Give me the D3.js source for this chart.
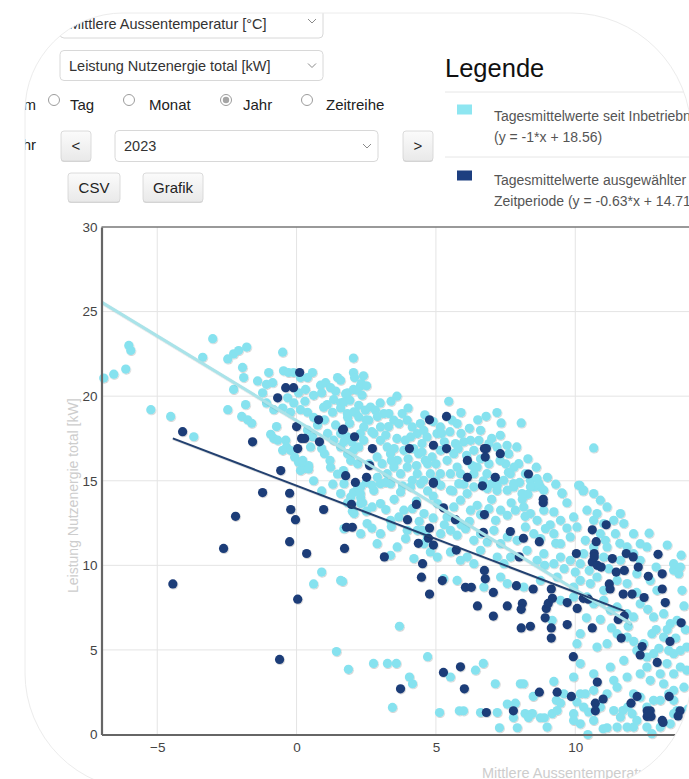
<!DOCTYPE html>
<html><head><meta charset="utf-8">
<script src="https://cdn.jsdelivr.net/npm/d3@7"></script>
<style>
body{margin:0;background:#fff;overflow:hidden}
svg{display:block;font-family:"Liberation Sans",Arial,Helvetica,sans-serif}
</style></head><body>
<div id="chart"></div>
<script>
const W = 689, H = 779
const PLOT = {LEFT:101.5, TOP:227, BOTTOM:734.5, RIGHT:714.6}

// achsen
const xDomain = [-7, 15]
const yDomain = [0, 30]
const xTicks = [-5, 0, 5, 10]
const yTicks = [0, 5, 10, 15, 20, 25, 30]
const xTitle = "Mittlere Aussentemperatur [°C]"
const yTitle = "Leistung Nutzenergie total [kW]"

// regressionen [steigung, achsenabschnitt] und x-bereich
const fitAll = [-1, 18.56], fitAllRange = [-7, 12]
const fitSel = [-0.63, 14.71], fitSelRange = [-4.44, 11.8]

const legendTitle = "Legende"
const legendLines = [
  ["Tagesmittelwerte seit Inbetriebnahme", "(y = -1*x + 18.56)"],
  ["Tagesmittelwerte ausgewählter", "Zeitperiode (y = -0.63*x + 14.71)"]
]
const selectTexts = ["Mittlere Aussentemperatur [°C]", "Leistung Nutzenergie total [kW]", "2023"]
const radioLabels = ["Tag", "Monat", "Jahr", "Zeitreihe"]
const radioChecked = "Jahr"

// Tagesmittelwerte seit Inbetrieb [temp, leistung]
const seitInbetrieb = [
[-6.92,21.07],[-6.56,21.3],[-6.13,21.6],[-6.02,23.0],[-5.95,22.7],[-5.23,19.2],[-4.52,18.8],[-3.69,17.6],[-3.01,23.4],[-3.37,22.3],
[-2.47,22.2],[-2.26,22.5],[-2.08,22.7],[-1.79,22.9],[-1.94,21.7],[-1.9,21.1],[-2.47,19.2],[-1.97,18.8],[-1.83,19.5],[-2.26,20.4],
[-1.76,18.6],[-1.61,18.4],[-1.4,20.9],[-1.08,20.7],[-0.86,20.8],[-1.0,21.4],[-0.5,22.6],[-1.22,20.2],[-1.08,19.6],[-0.82,19.2],
[-0.93,17.75],[-0.82,17.5],[-0.72,18.2],[-0.5,19.3],[-0.47,21.5],[-0.29,21.4],[-0.11,21.4],[-0.39,17.4],[-0.36,17.0],[-0.07,16.4],
[0.07,16.1],[0.22,15.7],[0.61,15.0],
[0.14,21.1],[0.39,21.1],[0.57,21.4],[-0.32,19.9],[-0.1,19.6],[0.07,20.2],[0.32,20.4],[0.61,20.05],[0.86,20.65],[1.04,20.8],[1.22,20.5],
[1.47,21.1],[1.33,19.8],[1.58,19.6],[1.83,20.2],[2.04,20.4],[2.04,22.25],[0.97,19.35],[1.29,19.05],[1.58,19.3],[1.83,18.75],[2.11,19.05],
[-0.22,19.05],[0.14,19.2],[0.39,19.05],[0.61,18.75],[-0.68,17.4],[-0.5,16.8],[-0.22,16.8],[0.22,16.2],[0.43,15.9],[0.39,18.0],
[0.57,17.6],[0.75,18.3],[1.11,17.8],[1.33,17.4],[1.58,17.0],[1.83,16.6],[2.04,16.8],[0.14,15.6],[0.43,15.7],[1.22,15.8],[1.47,15.4],
[1.68,15.6],[1.94,16.2],[2.19,16.0],[2.04,14.3],[2.19,14.6],[2.04,21.4],[2.08,21.1],[2.29,20.6],
[0.61,8.9],[0.9,9.6],[1.65,9.05],[1.43,4.9],[1.86,3.85],[2.3,14.0],[1.83,13.7],[2.0,13.2],[2.37,13.7],
[1.58,20.94],[1.76,20.15],[1.7,19.66],[1.91,19.76],[2.17,20.35],[2.32,20.75],[2.51,20.61],[2.35,20.06],[2.23,19.46],[1.82,18.97],
[2.05,19.07],[2.23,18.77],[2.47,19.17],[2.65,19.36],[2.83,19.17],[2.59,18.58],[2.41,18.18],[1.58,17.79],[1.82,17.59],[1.99,17.29],
[2.23,17.0],[2.29,17.79],[2.41,17.39],[2.77,17.79],[3.01,18.18],[3.13,18.97],[3.31,18.97],[3.39,19.7],[3.49,18.58],[3.67,18.38],
[3.79,18.97],[3.97,18.58],[4.15,18.18],[4.33,17.79],[4.09,17.59],[3.01,17.39],[3.25,17.0],[3.37,16.6],[3.61,16.21],[3.85,16.8],
[3.97,15.81],[3.73,15.42],[3.49,15.81],[3.25,15.42],[3.07,16.01],[2.89,16.41],[4.44,18.38],[4.56,17.98],[4.68,17.59],[4.5,17.2],
[4.38,16.6],[4.62,16.21],[4.86,16.41],[5.04,17.79],[5.16,18.18],[5.46,19.7],[5.58,18.58],[5.76,18.38],[5.9,19.03],[5.16,16.8],
[5.4,16.21],[5.64,16.6],[5.76,15.81],[5.88,15.42],[5.52,15.42],[5.16,15.42],[4.8,15.42],[4.56,15.03],[4.33,15.42],[4.15,15.03],
[6.24,17.39],[6.36,16.8],[6.54,17.39],[6.6,17.98],[6.8,18.81],[7.19,19.03],[7.34,18.42],[7.31,17.69],[7.19,17.0],[7.55,17.1],
[7.61,16.6],[6.48,15.81],[6.36,15.42],[6.83,15.42],[7.01,14.83],[7.19,14.43],[7.43,15.03],[7.67,15.42],[7.79,14.63],[7.97,16.01],
[8.06,18.42],[8.21,15.42],[8.39,15.03],[8.63,15.12],[8.75,14.63],[8.51,14.63],[9.52,14.28],[10.16,14.73],[10.28,14.4],[10.66,16.94],
[3.01,14.83],[2.77,14.43],[2.29,14.24],[1.94,14.04],[1.58,14.24],
[2.6,16.0],[2.9,15.2],[3.2,14.9],[3.5,16.9],[3.9,17.4],[4.2,16.9],[4.7,16.0],[5.0,15.0],[5.3,17.3],[5.5,17.9],
[5.9,17.8],[6.1,16.5],[6.3,15.9],[6.6,16.3],[6.9,16.0],[7.0,17.5],[7.5,16.0],[7.8,15.8],[8.0,14.9],[8.3,14.2],
[6.0,14.8],[5.6,14.4],[4.9,14.1],[4.3,13.8],[3.5,13.9],[2.5,14.9],[1.2,16.2],[1.0,16.6],[0.9,14.4],[1.3,14.8],
[1.1,19.5],[1.9,18.4],[2.7,17.9],[3.3,18.2],[4.0,19.3],[4.6,18.9],[4.9,18.5],[3.0,19.6],[2.4,21.2],[3.6,20.0],
[0.3,19.7],[0.9,20.2],[1.4,20.3],[0.5,17.0],[0.9,16.9],[1.7,17.3],[1.0,18.6],[1.4,18.3],[2.5,18.6],[2.9,18.8],
[3.2,17.7],[3.6,17.5],[3.4,16.2],[4.0,16.3],[4.3,15.9],[4.5,16.7],[5.0,16.0],[5.2,17.8],[5.7,17.2],[6.0,17.3],
[6.2,18.1],[6.5,18.6],[6.9,17.2],[7.3,16.2],[7.6,15.5],[7.9,17.0],[8.3,16.3],[8.6,15.8],[9.0,15.2],[9.3,14.8],
[9.7,13.7],[9.1,12.4],[8.2,12.9],[7.7,13.7],[7.0,13.9],[6.6,13.0],[6.2,12.6],[5.9,12.4],[5.3,12.4],[4.9,12.8],
[4.4,12.6],[3.4,12.3],[2.7,12.2],[2.5,13.2],[3.2,13.3],[3.8,14.7],[4.7,14.4],[5.8,16.9],[6.7,15.0],[8.1,13.9],
[8.9,10.0],[9.6,9.8],[10.0,9.6],[9.3,11.3],[9.7,12.2],[10.5,9.7],[11.2,9.8],[11.6,11.3],[12.2,8.4],[12.6,7.4],
[12.9,6.2],[13.3,6.2],[11.9,6.4],[11.3,6.3],[10.9,6.8],[10.4,6.9],[13.0,5.1],[12.1,5.5],[13.6,5.7],[13.9,7.6],
[13.8,10.6],[12.9,9.9],[13.3,11.2],
[1.7,14.83],[2.3,14.64],[2.71,14.73],[3.37,14.83],[3.73,14.34],[4.09,14.64],[4.45,14.83],[5.17,14.73],[5.52,14.44],[5.82,14.83],
[6.12,14.24],[6.36,14.64],[6.84,14.54],[7.2,14.73],[7.56,14.44],[7.79,14.83],[8.09,14.24],[8.39,14.64],[8.69,14.83],[8.87,14.44],
[9.53,14.24],[10.12,14.73],[10.3,14.44],
[2.06,13.06],[2.3,13.65],[2.71,13.45],[3.01,13.65],[3.85,13.26],[4.15,13.35],[4.57,13.06],[5.05,13.65],[5.4,12.86],[5.64,13.45],
[5.88,13.85],[6.24,13.26],[6.48,13.55],[6.9,13.35],[7.14,12.66],[7.32,13.26],[7.56,12.96],[7.85,13.26],[8.15,13.45],[8.39,13.06],
[8.63,12.66],[8.87,13.26],[9.23,13.16],[9.47,12.66],[9.94,12.86],[10.42,13.26],[10.66,12.66],
[1.7,12.17],[2.3,11.87],[3.01,11.87],[3.91,11.58],[4.33,12.07],[4.51,12.07],[4.69,11.68],[5.17,11.87],[5.52,12.07],[5.76,11.78],
[6.06,12.17],[6.36,11.48],[6.6,11.87],[6.84,11.38],[7.08,12.07],[7.32,11.28],[7.56,11.68],[7.91,11.48],[8.21,12.27],[8.51,11.87],
[8.75,11.58],[8.93,12.17],[9.23,11.87],[9.47,11.28],[9.82,11.68],[10.06,12.27],[10.36,11.48],[10.9,11.87],[11.08,11.48],[11.44,11.87],
[2.53,12.47],[3.37,12.66],[3.67,12.86],[3.97,12.07],[2.89,11.28],[3.61,11.09],[4.8,10.79],[4.57,11.28],
[3.37,10.59],[4.21,10.4],[5.05,10.49],[5.52,10.79],[5.88,10.3],[6.12,10.49],[6.36,10.1],[6.6,10.89],[7.2,10.49],[7.44,10.1],
[7.68,10.49],[8.27,10.89],[8.63,10.3],[8.87,10.69],[9.23,10.1],[9.47,10.49],[9.82,10.3],[10.18,10.1],[10.3,10.69],[10.66,11.09],
[11.02,10.49],[11.14,11.09],[11.62,10.3],[11.86,11.09],[12.09,10.69],[12.33,10.3],
[1.58,9.11],[5.28,9.21],[5.76,9.11],[6.72,8.72],[7.32,9.31],[7.56,8.92],[8.15,8.72],[8.75,9.11],[9.35,9.31],[9.94,8.72],
[10.18,9.11],[10.54,8.92],[10.78,9.31],[11.02,8.52],[11.5,9.11],[11.86,8.92],[12.21,9.51],[12.69,9.11],[12.93,8.52],[13.53,9.71],
[13.71,9.51],[13.83,8.52],
[9.47,7.93],[9.94,8.13],[10.42,8.13],[10.66,7.73],[11.02,7.93],[11.26,7.34],[11.5,7.54],[11.86,7.14],[12.09,6.95],[12.33,7.73],
[12.81,6.95],[13.17,7.14],[13.41,6.55],[13.65,6.75],[9.17,6.75],
[10.06,5.37],[10.18,5.96],[10.78,5.17],[11.14,5.37],[11.5,5.96],[11.86,5.76],[12.21,4.97],[12.45,5.37],[12.75,5.96],[13.17,5.76],
[13.35,4.97],[13.53,4.78],[13.77,4.97],[14.0,5.17],[12.57,4.58],
[10.18,4.19],[10.66,3.59],[11.26,3.99],[11.38,3.2],[11.74,4.38],[11.86,3.4],[12.33,3.59],[12.57,3.99],[12.69,3.2],[13.05,3.59],
[13.29,4.19],[13.53,3.59],[13.77,3.99],[12.81,4.78],
[9.94,3.4],[10.18,2.41],[10.36,2.41],[10.06,1.92],[10.3,1.62],[10.48,1.33],[10.66,2.61],[11.14,2.41],[11.38,1.42],[11.71,1.42],
[11.88,1.62],[12.04,1.23],[12.33,2.21],[12.57,1.62],[12.81,2.02],[13.05,2.02],[13.17,3.0],[13.35,2.41],[13.53,2.02],[13.65,1.42],
[9.23,3.14],[9.32,2.02],[9.47,1.86],[9.59,2.41],[9.17,1.23],[9.35,1.42],[9.94,1.23],[10.9,1.62],[11.5,2.8],[12.09,2.41],[13.53,2.61],
[10.45,0.0],[11.0,0.34],[11.14,0.4],[11.5,0.44],[11.86,0.44],[12.09,0.44],[12.21,0.83],[12.57,0.44],[12.75,0.05],[13.05,0.44],
[8.99,0.44],[8.75,0.99],[8.89,0.99],[9.94,0.83],[10.18,0.63],[10.66,0.83],[11.62,1.03],[13.41,0.63],[13.53,1.23],
[2.76,4.2],[3.26,4.2],[3.58,4.2],[3.44,1.6],[3.69,6.4],[4.05,3.4],[4.16,3.0],[4.7,4.6],[5.13,1.3],[5.52,3.4],
[5.84,1.4],[5.99,1.4],[6.42,3.8],[6.7,4.2],[6.6,1.3],[7.2,1.3],[7.13,3.0],[7.28,0.4],[7.56,1.8],[7.85,1.85],
[7.78,1.0],[7.92,0.4],[8.03,3.0],[8.14,3.0],[8.2,1.24],[8.46,1.24],[8.32,1.0],[8.49,2.25],
[10.66,14.24],[10.9,13.85],[11.14,13.45],[10.78,13.06],[11.38,12.66],[11.62,13.06],[11.74,12.47],[11.02,12.47],[12.09,11.87],[12.33,11.28],
[12.57,11.09],[12.65,11.9],[13.53,10.1],[13.77,9.9],[13.95,6.2],[14.0,3.8],[13.9,2.8],[14.05,1.5]
]

// Tagesmittelwerte ausgewählte Zeitperiode (2023)
const auswahl = [
[-4.09,17.9],[-1.58,17.3],[-0.68,19.9],[-0.39,20.5],[-0.11,20.5],[0.11,21.4],[0.0,18.2],[0.18,17.5],[0.29,17.5],[0.04,16.9],
[-0.57,15.6],[0.82,17.3],[0.79,18.6],[1.65,18.0],[2.08,17.6],[1.76,15.3],[2.11,14.9],[-1.22,14.3],[-0.25,14.26],[-2.19,12.9],
[-2.62,11.0],[-0.21,13.3],[-0.04,12.7],[0.97,13.3],[-0.25,11.4],[0.36,10.7],[-4.44,8.9],[0.04,8.0],[-0.61,4.44],[1.97,13.6],
[1.79,12.25],[2.0,12.25],[1.72,11.0],
[3.15,10.5],[3.98,12.7],[4.3,13.6],[4.37,11.3],[4.52,10.1],[4.48,9.3],[4.77,12.2],[4.73,11.6],[4.91,11.2],[4.77,8.3],
[5.23,9.1],[5.27,13.4],[5.7,12.7],[5.73,10.9],[6.06,8.7],[6.27,8.7],[6.49,7.6],[6.74,13.0],[6.7,11.95],[6.74,9.7],
[6.77,9.2],[7.06,7.0],[7.06,8.4],[6.67,14.7],[4.91,14.9],[7.56,7.6],[7.78,1.4],[7.67,12.0],[7.89,8.8],[7.99,10.5],
[8.1,7.75],[8.06,7.4],[8.06,6.3],[8.39,6.4],[8.14,11.6],[8.49,8.6],[8.71,11.4],[8.85,13.7],[8.96,7.45],[8.92,6.9],
[9.03,7.75],[9.14,8.6],[9.18,8.05],[9.14,6.3],[9.14,5.7],[9.71,7.8],[9.71,6.5],[10.04,10.7],[10.07,7.45],[9.93,4.6],
[9.86,2.25],[8.71,2.5],[9.35,2.5],[10.29,8.05],[10.47,8.0],[10.61,12.1],[10.75,11.4],[10.61,6.3],[10.61,10.2],[10.68,10.7],
[10.79,10.0],[10.93,9.9],[10.68,10.5],[11.11,12.4],[10.79,3.1],[10.72,1.85],[10.72,1.4],[11.0,2.1],[11.22,8.9],[11.25,8.6],
[11.33,10.4],[11.47,9.6],[11.54,6.8],[11.65,5.7],[11.72,8.3],[11.76,7.0],[11.76,9.7],[11.83,10.7],[12.0,1.85],[12.04,8.3],
[12.08,10.5],[12.22,2.25],[12.26,9.9],[12.4,5.2],[12.33,4.7],[12.47,8.1],[12.58,1.4],[12.69,1.4],[12.58,1.07],[12.72,1.07],
[12.62,1.24],[12.62,9.35],[12.94,4.26],[12.97,10.65],[13.12,0.83],[13.15,0.71],[13.12,9.5],[13.12,8.6],[13.23,7.8],[13.4,5.5],
[13.37,2.25],[13.8,6.6],[13.76,1.4],[13.69,1.1],
[1.68,18.05],[2.72,16.9],[2.62,15.9],[2.51,15.2],[4.05,16.9],[4.77,18.6],[5.38,18.8],[4.91,17.1],[5.38,16.9],[4.91,14.85],
[6.13,16.2],[6.74,16.9],[6.81,16.9],[6.77,16.4],[7.31,16.6],[6.13,15.2],[7.13,15.2],[8.32,15.4],[8.85,13.9],
[5.27,3.67],[5.88,4.0],[3.73,2.7],[6.02,2.7],[6.81,1.3]
]

const COL_LIGHT = "#86e2ef", COL_DARK = "#1b3c78"
const COL_LINE_LIGHT = "#a9e3e9", COL_LINE_DARK = "#22406f"

const svg = d3.select("#chart").append("svg")
    .attr("width", W)
    .attr("height", H)

const defs = svg.append("defs")

// abgerundeter rahmen (screenshot-kante)
const fr = {L:25, T:13, R:691, B:790}
const frame = d3.path()
frame.moveTo(fr.L + 98, fr.T)
frame.lineTo(fr.R - 120, fr.T)
frame.arcTo(fr.R, fr.T, fr.R, fr.T + 120, 120)
frame.lineTo(fr.R, fr.B - 112)
frame.arcTo(fr.R, fr.B, fr.R - 112, fr.B, 112)
frame.lineTo(fr.L + 117, fr.B)
frame.arcTo(fr.L, fr.B, fr.L, fr.B - 117, 117)
frame.lineTo(fr.L, fr.T + 98)
frame.arcTo(fr.L, fr.T, fr.L + 98, fr.T, 98)
frame.closePath()

defs.append("clipPath").attr("id", "frameClip")
  .append("path").attr("d", frame.toString())

const btnGrad = defs.append("linearGradient").attr("id", "btnGrad")
    .attr("x1", 0).attr("x2", 0).attr("y1", 0).attr("y2", 1)
btnGrad.append("stop").attr("offset", "0%").attr("stop-color", "#fbfbfb")
btnGrad.append("stop").attr("offset", "100%").attr("stop-color", "#e9e9e9")

const shadow = defs.append("filter").attr("id", "shadow")
    .attr("x", "-10%").attr("y", "-10%").attr("width", "120%").attr("height", "120%")
shadow.append("feDropShadow").attr("dx", 0.6).attr("dy", 0.8)
    .attr("stdDeviation", 0.7).attr("flood-color", "#000").attr("flood-opacity", 0.22)

const root = svg.append("g").attr("clip-path", "url(#frameClip)")

// --- formular oben ---
const selects = [
  {x:60, y:4, w:263, h:34, base:29},
  {x:60, y:50.5, w:263, h:30, base:71},
  {x:115, y:130.5, w:263, h:31, base:151}
]
selects.forEach((s, i) => {
  root.append("rect")
      .attr("x", s.x).attr("y", s.y).attr("width", s.w).attr("height", s.h)
      .attr("rx", 4).attr("fill", "#fff").attr("stroke", "#d8d8d8")
  root.append("text")
      .attr("x", s.x + 9).attr("y", s.base)
      .attr("font-size", 14.5).attr("fill", "#333")
      .text(selectTexts[i])
  const cx = s.x + s.w - 11, cy = s.y + s.h / 2
  root.append("path")
      .attr("d", `M${cx-4},${cy-2}L${cx},${cy+2}L${cx+4},${cy-2}`)
      .attr("fill", "none").attr("stroke", "#8a8a8a").attr("stroke-width", 1)
})

root.append("text").attr("x", 36).attr("y", 110).attr("text-anchor", "end")
    .attr("font-size", 15).attr("fill", "#222").text("Zeitraum")
root.append("text").attr("x", 36).attr("y", 150).attr("text-anchor", "end")
    .attr("font-size", 15).attr("fill", "#222").text("Jahr")

const radioPos = [[54, 70], [129, 149], [226, 243], [307, 326]]
radioLabels.forEach((lab, i) => {
  const [cx, tx] = radioPos[i]
  root.append("circle").attr("cx", cx).attr("cy", 100).attr("r", 5.5)
      .attr("fill", "#fff").attr("stroke", "#9c9c9c").attr("stroke-width", 1)
  if (lab === radioChecked)
    root.append("circle").attr("cx", cx).attr("cy", 100).attr("r", 3.2).attr("fill", "#a5a5a5")
  root.append("text").attr("x", tx).attr("y", 110)
      .attr("font-size", 15).attr("fill", "#222").text(lab)
})

const buttons = [
  {x:61, y:131, w:30, h:30, t:"<"},
  {x:403, y:131, w:30, h:30, t:">"},
  {x:68, y:173, w:52, h:29, t:"CSV"},
  {x:143, y:173, w:60, h:29, t:"Grafik"}
]
buttons.forEach(b => {
  root.append("rect").attr("x", b.x).attr("y", b.y + 1).attr("width", b.w).attr("height", b.h)
      .attr("rx", 3).attr("fill", "#d6d6d6")
  root.append("rect").attr("x", b.x).attr("y", b.y).attr("width", b.w).attr("height", b.h)
      .attr("rx", 3).attr("fill", "url(#btnGrad)").attr("stroke", "#d3d3d3").attr("stroke-width", 0.8)
  root.append("text").attr("x", b.x + b.w / 2).attr("y", b.y + b.h / 2 + 5)
      .attr("text-anchor", "middle").attr("font-size", 15).attr("fill", "#222").text(b.t)
})

// --- legende ---
root.append("text").attr("x", 445).attr("y", 77)
    .attr("font-size", 25.5).attr("fill", "#111").text(legendTitle)
;[92, 157].forEach(y => root.append("line")
    .attr("x1", 445).attr("x2", W).attr("y1", y).attr("y2", y)
    .attr("stroke", "#e6e6e6"))
const legendRows = [{sy:104.5, ty:121, c:"#8ee6f1"}, {sy:170.5, ty:185, c:"#1d3f80"}]
legendRows.forEach((r, i) => {
  root.append("rect").attr("x", 457).attr("y", r.sy).attr("width", 15).attr("height", 10).attr("fill", r.c)
  legendLines[i].forEach((t, j) => root.append("text")
      .attr("x", 494).attr("y", r.ty + j * 21)
      .attr("font-size", 14).attr("fill", "#555").text(t))
})

// --- streudiagramm ---
const x = d3.scaleLinear().domain(xDomain).range([PLOT.LEFT, PLOT.RIGHT])
const y = d3.scaleLinear().domain(yDomain).range([PLOT.BOTTOM, PLOT.TOP])

const plot = root.append("g")

plot.append("g").selectAll("line.gx").data(xTicks).enter().append("line")
    .attr("x1", d => x(d)).attr("x2", d => x(d))
    .attr("y1", PLOT.TOP).attr("y2", PLOT.BOTTOM)
    .attr("stroke", "#e4e4e4").attr("stroke-width", 1)
plot.append("g").selectAll("line.gy").data(yTicks.slice(1, -1)).enter().append("line")
    .attr("x1", PLOT.LEFT).attr("x2", PLOT.RIGHT)
    .attr("y1", d => y(d)).attr("y2", d => y(d))
    .attr("stroke", "#e4e4e4").attr("stroke-width", 1)

plot.append("line").attr("x1", PLOT.LEFT).attr("x2", PLOT.RIGHT)
    .attr("y1", PLOT.TOP).attr("y2", PLOT.TOP)
    .attr("stroke", "#777").attr("stroke-width", 1.6)

const dots = plot.append("g").attr("filter", "url(#shadow)")
dots.append("g").selectAll("circle").data(seitInbetrieb).enter().append("circle")
    .attr("cx", d => x(d[0])).attr("cy", d => y(d[1])).attr("r", 4.6)
    .attr("fill", COL_LIGHT)
dots.append("g").selectAll("circle").data(auswahl).enter().append("circle")
    .attr("cx", d => x(d[0])).attr("cy", d => y(d[1])).attr("r", 4.6)
    .attr("fill", COL_DARK)

const fitLine = (f, r) => r.map(v => [v, f[0] * v + f[1]])
const line = d3.line().x(d => x(d[0])).y(d => y(d[1]))
const lines = plot.append("g").attr("filter", "url(#shadow)")
lines.append("path").attr("d", line(fitLine(fitAll, fitAllRange)))
    .attr("fill", "none").attr("stroke", COL_LINE_LIGHT).attr("stroke-width", 3)
lines.append("path").attr("d", line(fitLine(fitSel, fitSelRange)))
    .attr("fill", "none").attr("stroke", COL_LINE_DARK).attr("stroke-width", 2)

// achsen
const yAxis = d3.axisLeft(y).tickValues(yTicks).tickSize(0).tickPadding(4)
const gy = plot.append("g").attr("transform", `translate(${PLOT.LEFT},0)`).call(yAxis)
gy.select(".domain").attr("stroke", "#666").attr("stroke-width", 2.2)
gy.selectAll("text").attr("font-size", 13.5).attr("fill", "#444")
    .attr("font-family", "'Liberation Sans',Arial,sans-serif")

const xAxis = d3.axisBottom(x).tickValues(xTicks).tickSize(0).tickPadding(8)
const gx = plot.append("g").attr("transform", `translate(0,${PLOT.BOTTOM})`).call(xAxis)
gx.select(".domain").attr("stroke", "#666").attr("stroke-width", 2.2)
gx.selectAll("text").attr("font-size", 13.5).attr("fill", "#444")
    .attr("font-family", "'Liberation Sans',Arial,sans-serif")

plot.append("text")
    .attr("transform", "translate(78,593) rotate(-90)")
    .attr("font-size", 14).attr("fill", "#cdcdcd").text(yTitle)
plot.append("text").attr("x", 482).attr("y", 778)
    .attr("font-size", 14.5).attr("fill", "#cdcdcd").text(xTitle)

// rahmenkante
svg.append("path").attr("d", frame.toString())
    .attr("fill", "none").attr("stroke", "#ececec").attr("stroke-width", 1)
</script></body></html>
